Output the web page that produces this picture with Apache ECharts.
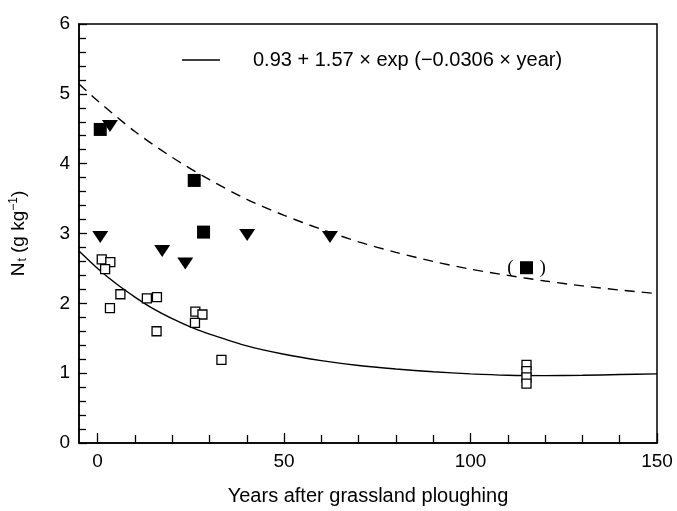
<!DOCTYPE html>
<html>
<head>
<meta charset="utf-8">
<script src="https://cdn.jsdelivr.net/npm/echarts@6/dist/echarts.min.js"></script>
<style>
    html, body { margin: 0; padding: 0; background: #fff; }
    #chart { width: 677px; height: 511px; }
</style>
</head>
<body>
<div id="chart"></div>
<script>
    // 数据
    var openSquareYears = [1.1, 3.4, 2.0, 6.1, 3.3, 13.2, 15.9, 15.8, 26.2, 28.1, 26.1, 33.2, 115, 115, 115, 115];
    var openSquareNt = [2.63, 2.59, 2.49, 2.13, 1.93, 2.07, 2.09, 1.60, 1.88, 1.84, 1.72, 1.19, 1.12, 1.03, 0.94, 0.85];

    var filledSquareYears = [0.7, 25.9, 28.4, 115];
    var filledSquareNt = [4.49, 3.76, 3.02, 2.51];

    var triangleYears = [3.3, 0.7, 17.3, 23.5, 40.1, 62.3];
    var triangleNt = [4.54, 2.95, 2.75, 2.57, 2.98, 2.95];

    // 拟合曲线（实线），读点
    var fitYears = [-5, 0, 5, 10, 15, 20, 25, 30, 40, 50, 60, 70, 80, 90, 100, 110, 120, 130, 140, 150];
    var fitSolid = [2.75, 2.50, 2.28, 2.09, 1.92, 1.78, 1.66, 1.56, 1.39, 1.27, 1.18, 1.11, 1.06, 1.02, 0.99, 0.97, 0.965, 0.97, 0.98, 0.99];
    // 虚线
    var dashYears = [-5, 0, 10, 20, 30, 40, 50, 60, 70, 80, 90, 100, 110, 120, 130, 140, 150];
    var fitDashed = [5.14, 4.90, 4.46, 4.09, 3.77, 3.49, 3.26, 3.06, 2.88, 2.73, 2.60, 2.49, 2.40, 2.32, 2.25, 2.19, 2.14];

    var xMajorTicks = [0, 50, 100, 150];
    var xMinorTicks = [10, 20, 30, 40, 60, 70, 80, 90, 110, 120, 130, 140];

    var legendText = '0.93 + 1.57 \u00d7 exp (\u22120.0306 \u00d7 year)';
    var FONT = 'Liberation Sans, Arial, sans-serif';

    function zip(xs, ys) {
        return xs.map(function (x, i) { return [x, ys[i]]; });
    }

    var filledData = zip(filledSquareYears, filledSquareNt).map(function (p, i) {
        if (i === filledSquareYears.length - 1) {
            return {
                value: p,
                label: {
                    show: true,
                    position: 'inside',
                    formatter: '{p|(}{g|}{p|)}',
                    rich: {
                        p: { fontSize: 19, fontFamily: 'Liberation Serif, serif', color: '#000' },
                        g: { width: 26 }
                    }
                }
            };
        }
        return p;
    });

    var chart = echarts.init(document.getElementById('chart'), null, { renderer: 'canvas' });

    chart.setOption({
        animation: false,
        backgroundColor: '#fff',
        textStyle: { fontFamily: FONT, color: '#000' },
        grid: {
            left: 77, right: 20, top: 24, bottom: 63,
            show: true, borderColor: '#000', borderWidth: 1.5, backgroundColor: 'transparent'
        },
        legend: {
            left: 177, top: 45,
            data: [{ name: legendText, icon: 'rect' }],
            itemWidth: 38, itemHeight: 1.5,
            textStyle: { fontSize: 20, color: '#000', fontFamily: FONT, padding: [0, 0, 0, 28] }
        },
        xAxis: [{
            type: 'value', min: -5, max: 150,
            axisLine: { show: true, onZero: false, lineStyle: { color: '#000', width: 1.5 } },
            axisTick: { show: true, inside: true, length: 10, customValues: xMajorTicks, lineStyle: { color: '#000', width: 1.3 } },
            axisLabel: { customValues: xMajorTicks, fontSize: 19, color: '#000', margin: 9, fontFamily: FONT },
            splitLine: { show: false },
            name: 'Years after grassland ploughing',
            nameLocation: 'middle', nameGap: 43,
            nameTextStyle: { fontSize: 20, color: '#000', fontFamily: FONT }
        }, {
            type: 'value', min: -5, max: 150, position: 'bottom',
            axisLine: { show: false, onZero: false },
            axisTick: { show: true, inside: true, length: 8, customValues: xMinorTicks, lineStyle: { color: '#000', width: 1.3 } },
            axisLabel: { show: false },
            splitLine: { show: false }
        }],
        yAxis: {
            type: 'value', min: 0, max: 6, interval: 1,
            axisLine: { show: true, onZero: false, lineStyle: { color: '#000', width: 1.5 } },
            axisTick: { show: true, inside: true, length: 8, lineStyle: { color: '#000', width: 1.3 } },
            minorTick: { show: true, splitNumber: 5, length: 7, lineStyle: { color: '#000', width: 1.3 } },
            axisLabel: { fontSize: 19, color: '#000', margin: 9, fontFamily: FONT },
            splitLine: { show: false },
            name: '{n|N}{sub|t}{n| (g kg}{sup|\u22121}{n|)}',
            nameLocation: 'middle', nameGap: 50,
            nameTextStyle: {
                fontFamily: FONT, color: '#000',
                rich: {
                    n: { fontSize: 19, fontFamily: FONT, color: '#000' },
                    sub: { fontSize: 12, fontFamily: FONT, color: '#000', padding: [9, 0, 0, 1] },
                    sup: { fontSize: 12, fontFamily: FONT, color: '#000', padding: [0, 0, 9, 0] }
                }
            }
        },
        series: [{
            name: legendText,
            type: 'line',
            data: zip(fitYears, fitSolid),
            smooth: 0.3,
            showSymbol: false, symbol: 'none',
            lineStyle: { color: '#000', width: 1.4 },
            itemStyle: { color: '#000' },
            z: 2
        }, {
            name: 'dashed',
            type: 'line',
            data: zip(dashYears, fitDashed),
            smooth: 0.3,
            showSymbol: false, symbol: 'none',
            lineStyle: { color: '#000', width: 1.4, type: [10, 7] },
            z: 2
        }, {
            name: 'open',
            type: 'scatter',
            data: zip(openSquareYears, openSquareNt),
            symbol: 'rect', symbolSize: 9,
            itemStyle: { color: '#fff', borderColor: '#000', borderWidth: 1.3, opacity: 1 },
            z: 3
        }, {
            name: 'filled',
            type: 'scatter',
            data: filledData,
            symbol: 'rect', symbolSize: 13,
            itemStyle: { color: '#000', opacity: 1 },
            z: 3
        }, {
            name: 'triangle',
            type: 'scatter',
            data: zip(triangleYears, triangleNt),
            symbol: 'triangle', symbolRotate: 180, symbolSize: [16, 12],
            itemStyle: { color: '#000', opacity: 1 },
            z: 3
        }]
    });
</script>
</body>
</html>
